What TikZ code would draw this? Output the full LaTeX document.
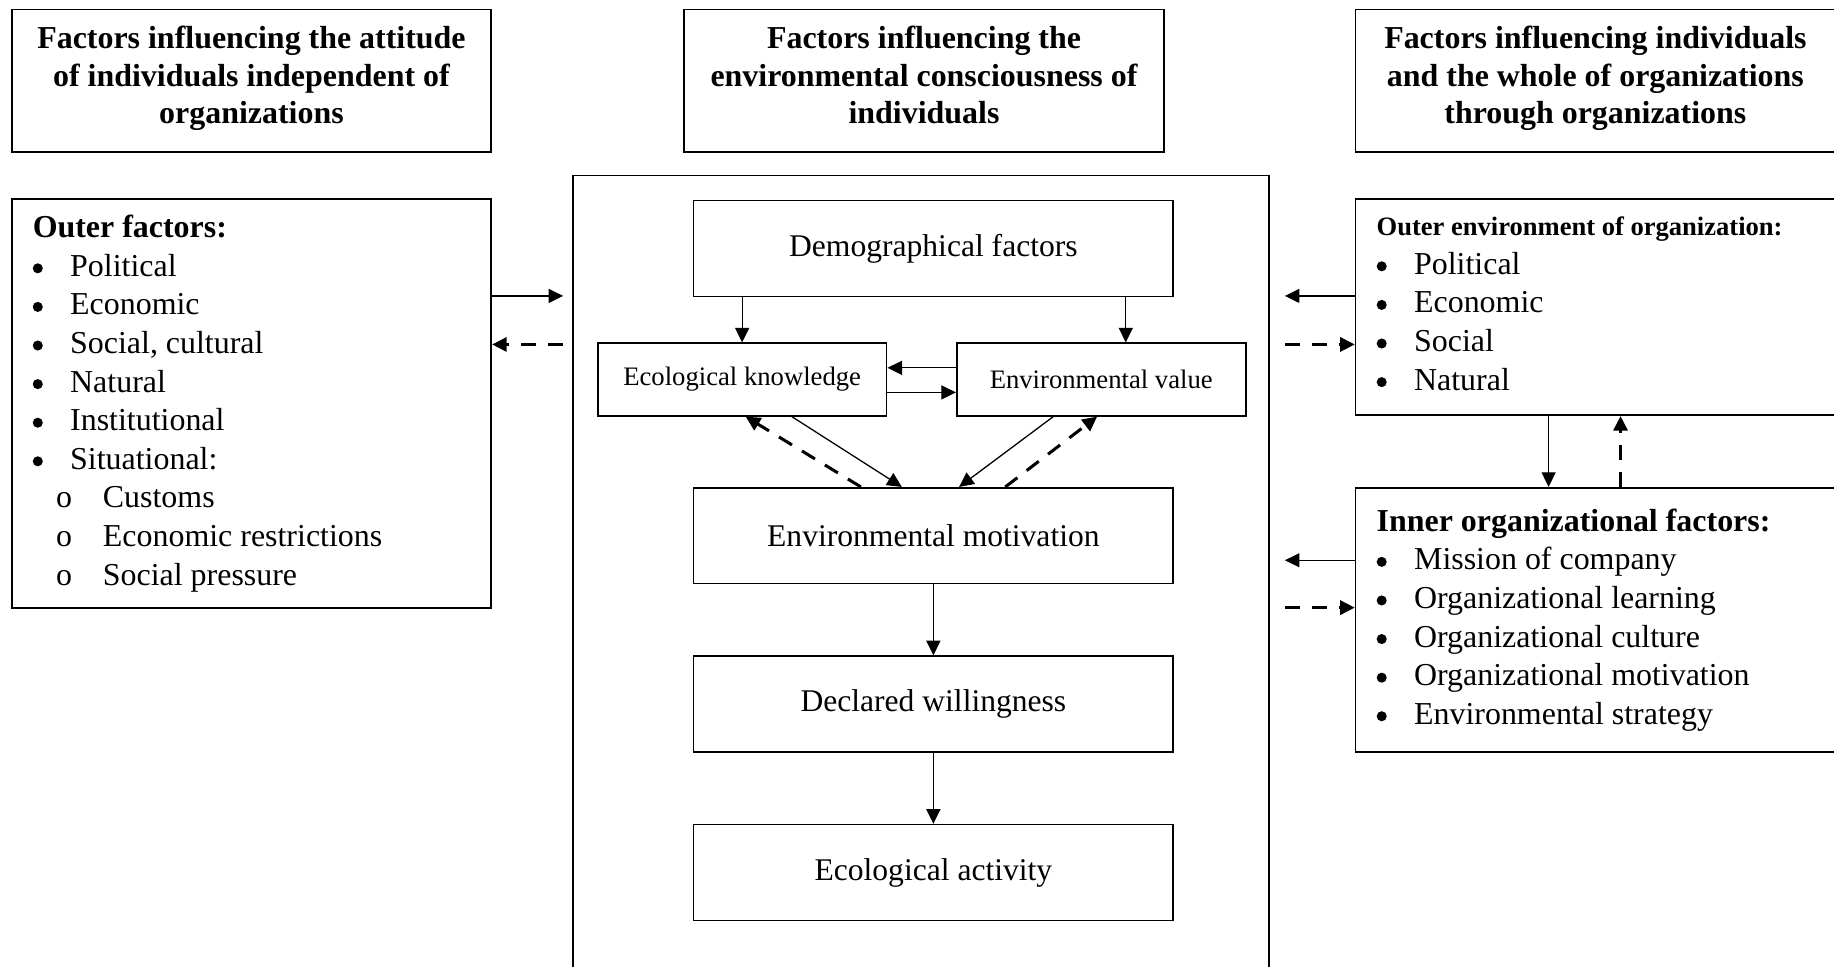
\documentclass[tikz,border=0pt]{standalone}
\usepackage{fontspec}
\setmainfont{Liberation Serif}
\usetikzlibrary{arrows.meta}
\newcommand\dotb{\tikz[baseline=-6.8pt]\fill (0pt,0pt) circle (4.3pt);}
\newcommand\itm[1]{\makebox[32pt][l]{\dotb}#1}
\newcommand\sitm[1]{\hspace*{20pt}\makebox[40pt][l]{o}#1}
\tikzstyle{bx}=[draw,line width=1.4pt,inner sep=0pt]
\tikzstyle{hbx}=[bx,minimum width=410pt,minimum height=122pt,align=flush center,
  font=\fontsize{27.3}{32}\selectfont\bfseries,execute at end node={\rule[-10pt]{0pt}{10pt}}]
\tikzstyle{lbx}=[bx,text width=374pt,inner xsep=18pt,align=flush left,font=\fontsize{27.3}{33}\selectfont]
\tikzstyle{cbx}=[bx,minimum width=410pt,minimum height=82pt,font=\fontsize{27}{32}\selectfont]
\tikzstyle{sbx}=[bx,minimum width=247pt,minimum height=62pt,font=\fontsize{22.8}{27}\selectfont]
\tikzstyle{arhead}=[>/.tip={Triangle[length=12.5pt,width=12pt]}]
\tikzstyle{ar}=[line width=1.1pt,arhead,->]
\tikzstyle{dar}=[line width=2.6pt,arhead,->,dash pattern=on 13pt off 10pt]
\begin{document}
\begin{tikzpicture}[x=1pt,y=-1pt]
  \useasboundingbox (0,0) rectangle (1568,826);
  % column heads
  \node[hbx] (lhead) at (215,69) {Factors influencing the attitude\\of individuals independent of\\organizations};
  \node[hbx] (chead) at (790,69) {Factors influencing the\\environmental consciousness of\\individuals};
  \node[hbx] (rhead) at (1364,69) {Factors influencing individuals\\and the whole of organizations\\through organizations};
  % left
  \node[lbx,minimum height=350pt] (outer) at (215,345) {\textbf{Outer factors:}\\
    \itm{Political}\\ \itm{Economic}\\ \itm{Social, cultural}\\ \itm{Natural}\\
    \itm{Institutional}\\ \itm{Situational:}\\
    \sitm{Customs}\\ \sitm{Economic restrictions}\\ \sitm{Social pressure}};
  % middle
  \node[bx,minimum width=595pt,minimum height=760pt] (frame) at (787.5,530) {};
  \node[cbx] (demog) at (798,212.5) {Demographical factors};
  \node[sbx] (know) at (634.5,324.5) {Ecological knowledge};
  \node[sbx] (value) at (941.5,324.5) {Environmental value};
  \node[cbx] (motiv) at (798,458) {Environmental motivation};
  \node[cbx] (will) at (798,602) {Declared willingness};
  \node[cbx] (activ) at (798,746) {Ecological activity};
  % right
  \node[lbx,minimum height=185pt] (orgout) at (1364,262.5) {{\fontsize{22.7}{27}\selectfont\bfseries Outer environment of organization:}\\
    \itm{Political}\\ \itm{Economic}\\ \itm{Social}\\ \itm{Natural}\rule[-6pt]{0pt}{6pt}};
  \node[lbx,minimum height=226pt] (orgin) at (1364,530) {\textbf{Inner organizational factors:}\\
    \itm{Mission of company}\\ \itm{Organizational learning}\\ \itm{Organizational culture}\\
    \itm{Organizational motivation}\\ \itm{Environmental strategy}};
  \coordinate (lin) at (481.5,253);
  \coordinate (lout) at (481.5,294.5);
  \coordinate (rin) at (1098.5,253);
  \coordinate (rout) at (1098.5,294.5);
  \coordinate (rin2) at (1098.5,479);
  \coordinate (rout2) at (1098.5,519.5);
  \draw[ar] (outer.east |- lin) -- (lin);
  \draw[dar] (lout) -- (outer.east |- lout);
  \draw[ar] (orgout.west |- rin) -- (rin);
  \draw[dar] (rout) -- (orgout.west |- rout);
  \draw[ar] (orgin.west |- rin2) -- (rin2);
  \draw[dar] (rout2) -- (orgin.west |- rout2);
  \draw[ar] ([xshift=-40pt]orgout.south) -- ([xshift=-40pt]orgin.north);
  \draw[dar] ([xshift=21.5pt]orgin.north) -- ([xshift=21.5pt]orgout.south);
  \draw[ar] (demog.south -| know) -- (know.north);
  \draw[ar] ([xshift=21pt]value.north |- demog.south) -- ([xshift=21pt]value.north);
  \draw[ar] ([yshift=10pt]value.west) -- ([yshift=10pt]know.east);
  \draw[ar] ([yshift=-11pt]know.east) -- ([yshift=-11pt]value.west);
  \draw[ar] ([xshift=42.5pt]know.south) -- ([xshift=-27pt]motiv.north);
  \draw[dar] ([xshift=-62pt]motiv.north) -- ([xshift=3pt]know.south);
  \draw[ar] ([xshift=-41pt]value.south) -- ([xshift=22pt]motiv.north);
  \draw[dar] ([xshift=61.5pt]motiv.north) -- ([xshift=-3.5pt]value.south);
  \draw[ar] (motiv) -- (will);
  \draw[ar] (will) -- (activ);
\end{tikzpicture}
\end{document}
